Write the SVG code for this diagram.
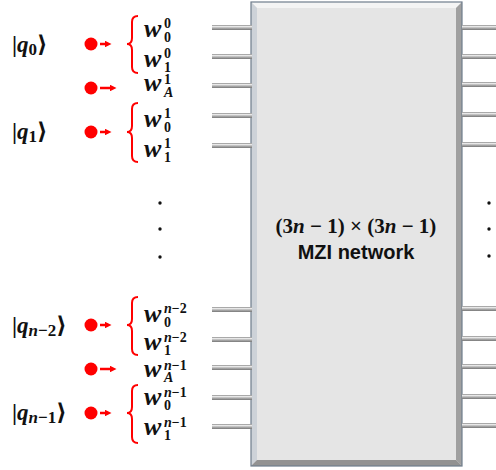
<svg xmlns="http://www.w3.org/2000/svg" width="496" height="470" viewBox="0 0 496 470">
<style>
.m{font-family:"Liberation Serif","DejaVu Serif",serif;font-weight:bold;fill:#111}
.it{font-style:italic}
.w{font-size:26px;font-style:italic}
.s{font-size:14px;font-style:normal}
.si{font-size:14px;font-style:italic}
.qs{font-size:17px}
.q{font-size:23px}
.brace{fill:none;stroke:#f00;stroke-width:2}
.arr{stroke:#f00;stroke-width:2.5;fill:none}
.dot{fill:#f00}
.bk{fill:#111}
.sans{font-family:"Liberation Sans","Arial",sans-serif;font-weight:bold;font-size:20px;fill:#111}
</style>
<defs>
<linearGradient id="stub" x1="0" y1="0" x2="0" y2="1">
<stop offset="0" stop-color="#8a8a8a"/>
<stop offset="0.3" stop-color="#e8e8e8"/>
<stop offset="0.6" stop-color="#b0b0b0"/>
<stop offset="1" stop-color="#777"/>
</linearGradient>
<marker id="ah" viewBox="0 0 10 10" refX="0" refY="5" markerWidth="2.6" markerHeight="2.6" orient="auto" markerUnits="strokeWidth">
<path d="M0,0 L10,5 L0,10 z" fill="#f00"/>
</marker>
</defs>

<g id="mzi">
<rect x="251" y="2" width="211" height="464" fill="#e5e5e5"/>
<polygon points="251,2 462,2 456,8 257,8" fill="#f4f4f4"/>
<polygon points="251,2 257,8 257,460 251,466" fill="#cdd2d8"/>
<polygon points="462,2 462,466 456,460 456,8" fill="#a0a0a0"/>
<polygon points="251,466 462,466 456,460 257,460" fill="#929292"/>
<rect x="251" y="2" width="211" height="464" fill="none" stroke="#6f7d8c" stroke-width="1.2"/>
<text x="356" y="233" class="m" font-size="21" text-anchor="middle">(3<tspan class="it">n</tspan> − 1) × (3<tspan class="it">n</tspan> − 1)</text>
<text x="356" y="259" class="sans" text-anchor="middle">MZI network</text>
</g>

<g id="stubs">
<g fill="url(#stub)">
<rect x="212" y="25" width="40" height="5"/>
<rect x="212" y="54" width="40" height="5"/>
<rect x="212" y="83" width="40" height="5"/>
<rect x="212" y="113" width="40" height="5"/>
<rect x="212" y="143" width="40" height="5"/>
<rect x="212" y="307" width="40" height="5"/>
<rect x="212" y="337" width="40" height="5"/>
<rect x="212" y="365" width="40" height="5"/>
<rect x="212" y="395" width="40" height="5"/>
<rect x="212" y="424" width="40" height="5"/>
<rect x="462" y="25" width="34" height="5"/>
<rect x="462" y="54" width="34" height="5"/>
<rect x="462" y="82" width="34" height="5"/>
<rect x="462" y="112" width="34" height="5"/>
<rect x="462" y="142" width="34" height="5"/>
<rect x="462" y="306" width="34" height="5"/>
<rect x="462" y="336" width="34" height="5"/>
<rect x="462" y="364" width="34" height="5"/>
<rect x="462" y="394" width="34" height="5"/>
<rect x="462" y="423" width="34" height="5"/>
</g>
</g>

<g id="ellipsis">
<circle cx="160" cy="203" r="1.7" class="bk"/>
<circle cx="160" cy="229" r="1.7" class="bk"/>
<circle cx="160" cy="257" r="1.7" class="bk"/>
<circle cx="489" cy="203" r="1.7" class="bk"/>
<circle cx="489" cy="229" r="1.7" class="bk"/>
<circle cx="489" cy="256" r="1.7" class="bk"/>
</g>

<g id="qubits">
<text x="12" y="52" class="m q">|<tspan class="it">q</tspan><tspan class="qs" dy="3">0</tspan><tspan dy="-3">⟩</tspan></text>
<text x="12" y="139" class="m q">|<tspan class="it">q</tspan><tspan class="qs" dy="3">1</tspan><tspan dy="-3">⟩</tspan></text>
<text x="12" y="333" class="m q">|<tspan class="it">q</tspan><tspan class="qs" dy="3"><tspan class="it">n</tspan>−2</tspan><tspan dy="-3">⟩</tspan></text>
<text x="12" y="420" class="m q">|<tspan class="it">q</tspan><tspan class="qs" dy="3"><tspan class="it">n</tspan>−1</tspan><tspan dy="-3">⟩</tspan></text>
</g>

<g id="sources">
<circle cx="91" cy="44" r="6.5" class="dot"/>
<circle cx="91" cy="88" r="6.5" class="dot"/>
<circle cx="91" cy="132" r="6.5" class="dot"/>
<circle cx="91" cy="325" r="6.5" class="dot"/>
<circle cx="91" cy="369" r="6.5" class="dot"/>
<circle cx="91" cy="413" r="6.5" class="dot"/>
</g>

<g id="connectors">
<line x1="100" y1="44" x2="105" y2="44" class="arr" marker-end="url(#ah)"/>
<line x1="100" y1="88" x2="110" y2="88" class="arr" marker-end="url(#ah)"/>
<line x1="100" y1="132" x2="105" y2="132" class="arr" marker-end="url(#ah)"/>
<line x1="100" y1="325" x2="105" y2="325" class="arr" marker-end="url(#ah)"/>
<line x1="100" y1="369" x2="110" y2="369" class="arr" marker-end="url(#ah)"/>
<line x1="100" y1="413" x2="105" y2="413" class="arr" marker-end="url(#ah)"/>
<path class="brace" d="M138,16 Q132,16 132,22 L132,38 Q132,44 127,44 Q132,44 132,50 L132,67 Q132,73 138,73"/>
<path class="brace" d="M138,103 Q132,103 132,109 L132,126 Q132,132 127,132 Q132,132 132,138 L132,156 Q132,162 138,162"/>
<path class="brace" d="M138,297 Q132,297 132,303 L132,319 Q132,325 127,325 Q132,325 132,331 L132,349 Q132,355 138,355"/>
<path class="brace" d="M138,385 Q132,385 132,391 L132,407 Q132,413 127,413 Q132,413 132,419 L132,437 Q132,443 138,443"/>
</g>

<g id="modes">
<text id="w00" class="m"><tspan class="w" x="144" y="37">w</tspan><tspan class="s" x="164" y="28">0</tspan><tspan class="s" x="164" y="42">0</tspan></text>
<text id="w01" class="m"><tspan class="w" x="144" y="67">w</tspan><tspan class="s" x="164" y="58">0</tspan><tspan class="s" x="164" y="72">1</tspan></text>
<text id="w1A" class="m"><tspan class="w" x="144" y="91">w</tspan><tspan class="s" x="164" y="84">1</tspan><tspan class="si" x="164" y="97">A</tspan></text>
<text id="w10" class="m"><tspan class="w" x="144" y="127">w</tspan><tspan class="s" x="164" y="118">1</tspan><tspan class="s" x="164" y="132">0</tspan></text>
<text id="w11" class="m"><tspan class="w" x="144" y="157">w</tspan><tspan class="s" x="164" y="148">1</tspan><tspan class="s" x="164" y="162">1</tspan></text>
<text id="wn20" class="m"><tspan class="w" x="144" y="322">w</tspan><tspan class="si" x="164" y="313">n</tspan><tspan class="s">−2</tspan><tspan class="s" x="164" y="327">0</tspan></text>
<text id="wn21" class="m"><tspan class="w" x="144" y="350">w</tspan><tspan class="si" x="164" y="342">n</tspan><tspan class="s">−2</tspan><tspan class="s" x="164" y="355">1</tspan></text>
<text id="wn1A" class="m"><tspan class="w" x="144" y="377">w</tspan><tspan class="si" x="164" y="370">n</tspan><tspan class="s">−1</tspan><tspan class="si" x="164" y="382">A</tspan></text>
<text id="wn10" class="m"><tspan class="w" x="144" y="405">w</tspan><tspan class="si" x="164" y="397">n</tspan><tspan class="s">−1</tspan><tspan class="s" x="164" y="410">0</tspan></text>
<text id="wn11" class="m"><tspan class="w" x="144" y="435">w</tspan><tspan class="si" x="164" y="427">n</tspan><tspan class="s">−1</tspan><tspan class="s" x="164" y="440">1</tspan></text>
</g>
</svg>
